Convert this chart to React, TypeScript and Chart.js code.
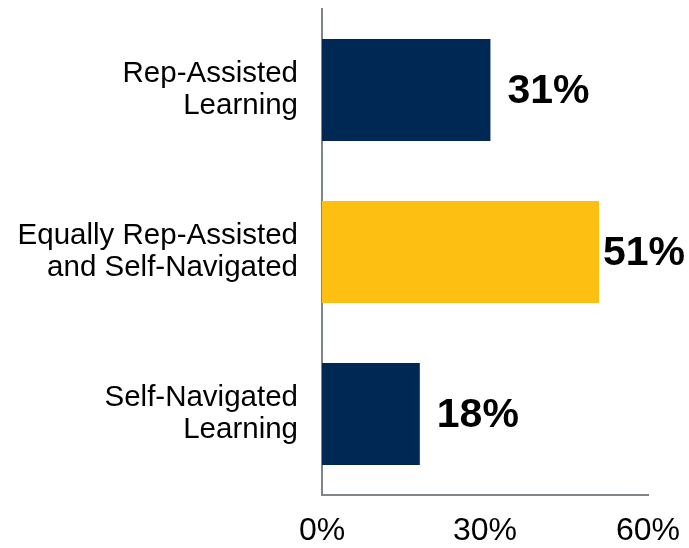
import React, { useEffect, useRef } from "react";
import { Chart, registerables } from "chart.js";

Chart.register(...registerables);

const categories: string[][] = [
  ["Rep-Assisted", "Learning"],
  ["Equally Rep-Assisted", "and Self-Navigated"],
  ["Self-Navigated", "Learning"],
];
const values: number[] = [31, 51, 18];
const barColors: string[] = ["#002855", "#FDBF12", "#002855"];
const xTicks: number[] = [0, 30, 60];

const valueLabelPlugin = {
  id: "valueLabels",
  afterDatasetsDraw(chart: any) {
    const ctx = chart.ctx;
    const meta = chart.getDatasetMeta(0);
    ctx.save();
    ctx.font = "bold 41px 'Liberation Sans', Arial, sans-serif";
    ctx.fillStyle = "#000000";
    ctx.textBaseline = "middle";
    ctx.textAlign = "left";
    meta.data.forEach((bar: any, i: number) => {
      const text = values[i] + "%";
      const w = ctx.measureText(text).width;
      let x = bar.x + 17;
      if (x + w > chart.width - 4) x = chart.width - 4 - w;
      ctx.fillText(text, x, bar.y + 2);
    });
    ctx.restore();
  },
};

export default function App() {
  const ref = useRef<HTMLCanvasElement | null>(null);
  useEffect(() => {
    if (!ref.current) return;
    const chart = new Chart(ref.current, {
      type: "bar",
      data: {
        labels: categories,
        datasets: [
          {
            data: values,
            backgroundColor: barColors,
            borderWidth: 0,
            barPercentage: 0.63,
            categoryPercentage: 1,
          },
        ],
      },
      options: {
        indexAxis: "y",
        animation: false,
        responsive: false,
        maintainAspectRatio: false,
        layout: { padding: { top: 9, right: 41, left: 0, bottom: 0 } },
        plugins: { legend: { display: false }, tooltip: { enabled: false } },
        scales: {
          x: {
            min: 0,
            max: 60,
            afterBuildTicks: (scale: any) => {
              scale.ticks = xTicks.map((v) => ({ value: v }));
            },
            afterFit: (scale: any) => {
              scale.height = 53;
              scale.paddingLeft = 0;
              scale.paddingRight = 0;
            },
            grid: { display: false, drawTicks: false },
            border: { display: true, color: "#7F8689", width: 2 },
            ticks: {
              callback: (v: any) => v + "%",
              color: "#000000",
              font: { family: "'Liberation Sans', Arial, sans-serif", size: 32 },
              padding: 17,
              maxRotation: 0,
            },
          },
          y: {
            afterFit: (scale: any) => {
              scale.width = 322;
              scale.paddingTop = 0;
              scale.paddingBottom = 0;
            },
            grid: { display: false, drawTicks: false },
            border: { display: true, color: "#7F8689", width: 2 },
            ticks: {
              color: "#000000",
              font: { family: "'Liberation Sans', Arial, sans-serif", size: 29.5, lineHeight: 1.07 },
              padding: 24,
            },
          },
        },
      },
      plugins: [valueLabelPlugin],
    } as any);
    return () => chart.destroy();
  }, []);
  return (
    <div style={{ position: "fixed", left: 0, top: 0, width: 689, height: 548, background: "#ffffff" }}>
      <canvas ref={ref} width={689} height={548} style={{ width: 689, height: 548 }} />
    </div>
  );
}
